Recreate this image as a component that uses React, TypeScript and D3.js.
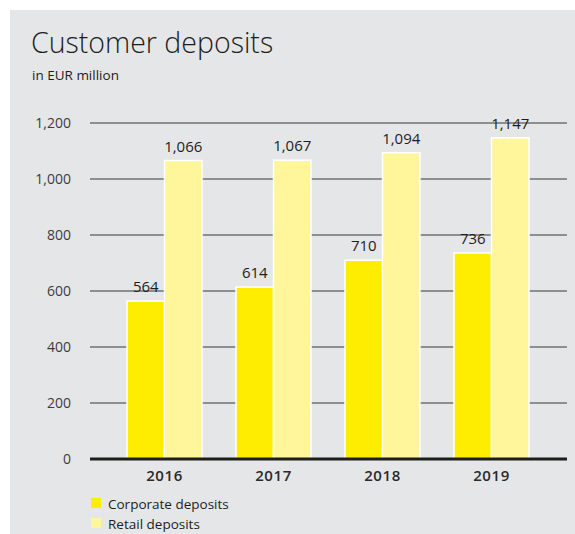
import React from "react";
import * as d3 from "d3";

const years = ["2016", "2017", "2018", "2019"];
const corporate = [564, 614, 710, 736];
const retail = [1066, 1067, 1094, 1147];
const yTicks = [0, 200, 400, 600, 800, 1000, 1200];
const seriesNames = ["Corporate deposits", "Retail deposits"];
const colors = ["#ffed00", "#fff59b"];

const W = 575;
const H = 534;
const FONT = "'Open Sans', Lato, sans-serif";

export default function App() {
  const y = d3.scaleLinear().domain([0, 1200]).range([459, 123]);
  const x = d3.scaleBand().domain(years).range([110, 546]).paddingInner(0).paddingOuter(0);
  const inner = d3.scaleBand().domain(["c", "r"]).range([0, 75]);
  const groupOffset = (x.bandwidth() - 75) / 2;
  const fmt = d3.format(",");
  const series = [corporate, retail];

  return (
    <svg width={W} height={H} style={{ position: "absolute", left: 0, top: 0 }} fontFamily={FONT}>
      <rect x={10} y={10} width={565} height={524} fill="#e5e6e8" />
      <text x={31} y={53} fontSize={28.5} fontWeight={300} fill="#1d1d1b">Customer deposits</text>
      <text x={32} y={80} fontSize={13.5} fill="#1d1d1b">in EUR million</text>

      {yTicks.map((t) => (
        <g key={t}>
          {t !== 0 && (
            <line x1={90} x2={567} y1={y(t)} y2={y(t)} stroke="#707070" strokeWidth={1.5} />
          )}
          <text x={71} y={y(t) + 5} textAnchor="end" fontSize={14} fill="#3c3c3b">{fmt(t)}</text>
        </g>
      ))}

      {years.map((yr, i) => (
        <g key={yr} transform={`translate(${(x(yr) as number) + groupOffset},0)`}>
          {series.map((s, j) => {
            const key = j === 0 ? "c" : "r";
            const bx = inner(key) as number;
            const bw = inner.bandwidth();
            return (
              <g key={key}>
                <rect x={bx} y={y(s[i])} width={bw} height={y(0) - y(s[i])} fill={colors[j]} stroke="#ffffff" strokeWidth={1.5} />
                <text x={bx + bw / 2} y={y(s[i]) - 9} textAnchor="middle" fontSize={15} fill="#1d1d1b">{fmt(s[i])}</text>
              </g>
            );
          })}
          <text x={x.bandwidth() / 2 - groupOffset} y={481} textAnchor="middle" fontSize={15} fontWeight={600} fill="#2a2a28" letterSpacing={0.6}>{yr}</text>
        </g>
      ))}

      <line x1={90} x2={567} y1={y(0)} y2={y(0)} stroke="#1d1d1b" strokeWidth={3} />

      {seriesNames.map((n, j) => (
        <g key={n} transform={`translate(91,${498 + j * 20})`}>
          <rect x={0} y={0} width={10} height={10} fill={colors[j]} />
          <text x={17} y={10.5} fontSize={13.5} fill="#1d1d1b">{n}</text>
        </g>
      ))}
    </svg>
  );
}
